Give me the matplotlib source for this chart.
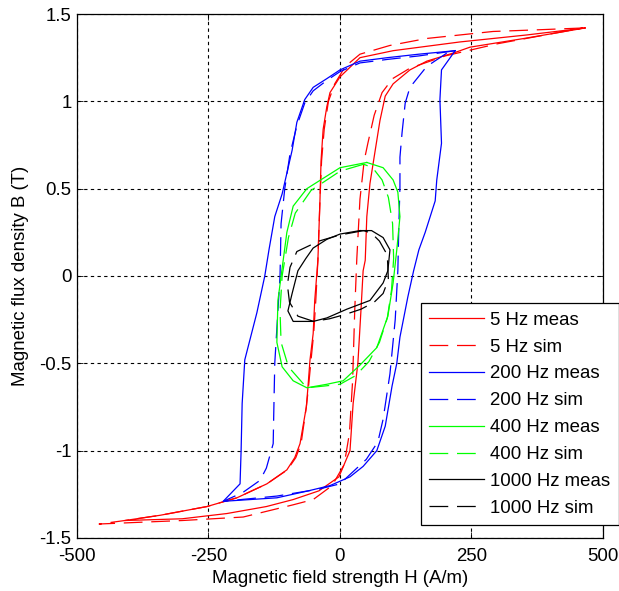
import matplotlib
matplotlib.use("Agg")
import matplotlib.pyplot as plt

# 5 Hz, measured (descending branch then ascending branch)
h_5_meas = [466, 355, 228, 101, 38, 0, -19, -25, -32, -36, -38, -42, -48, -51, -57, -61, -64,
            -76, -86, -101, -139, -196, -253, -342, -409,
            -300, -215, -140, -89, -40, -2, 19, 25, 34, 40, 44, 48, 51, 57, 67, 76, 86, 101,
            133, 165, 219, 247, 350, 466]
b_5_meas = [1.42, 1.38, 1.34, 1.29, 1.25, 1.14, 1.05, 0.97, 0.84, 0.66, 0.44, 0.09, -0.14, -0.33,
            -0.48, -0.64, -0.75, -0.96, -1.04, -1.11, -1.19, -1.27, -1.32, -1.37, -1.40,
            -1.39, -1.36, -1.32, -1.28, -1.23, -1.15, -1.0, -0.73, -0.50, -0.19, 0.03, 0.09,
            0.34, 0.53, 0.72, 0.89, 1.03, 1.10, 1.18, 1.23, 1.28, 1.31, 1.36, 1.42]

# 5 Hz, simulated
h_5_sim = [462, 380, 291, 165, 95, 38, 10, -10, -22, -30, -35, -38, -42, -46, -50, -55, -60, -64,
           -74, -84, -100, -139, -196, -253, -342, -409, -458,
           -380, -300, -184, -89, -51, -15, 8, 18, 24, 28, 32, 38, 46, 53, 65, 80, 100, 133,
           200, 300, 462]
b_5_sim = [1.42, 1.41, 1.40, 1.36, 1.32, 1.27, 1.20, 1.10, 1.0, 0.84, 0.66, 0.44, 0.09, -0.14,
           -0.33, -0.48, -0.64, -0.75, -0.96, -1.04, -1.11, -1.19, -1.27, -1.32, -1.37, -1.40,
           -1.42, -1.41, -1.40, -1.38, -1.31, -1.28, -1.20, -1.08, -0.90, -0.60, -0.20, 0.10,
           0.44, 0.66, 0.76, 0.92, 1.05, 1.13, 1.19, 1.26, 1.33, 1.42]

# 200 Hz, measured
h_200_meas = [219, 150, 90, 38, 0, -25, -51, -67, -82, -91, -110, -124, -135, -143, -158, -181,
              -186, -188, -190, -222,
              -120, -60, -19, 19, 44, 70, 86, 99, 108, 114, 129, 140, 150, 162, 181, 184, 193,
              190, 193, 219]
b_200_meas = [1.29, 1.27, 1.25, 1.23, 1.18, 1.13, 1.08, 1.01, 0.88, 0.72, 0.47, 0.34, 0.15, 0.0,
              -0.21, -0.48, -0.73, -1.0, -1.19, -1.29,
              -1.27, -1.23, -1.20, -1.15, -1.09, -1.0, -0.86, -0.63, -0.50, -0.35, -0.12, 0.03,
              0.15, 0.25, 0.43, 0.55, 0.76, 1.01, 1.18, 1.29]

# 200 Hz, simulated
h_200_sim = [219, 150, 90, 38, 0, -25, -51, -67, -82, -95, -105, -112, -114, -120, -124, -126,
             -127, -140, -152, -185, -222,
             -120, -40, 0, 25, 50, 72, 82, 95, 105, 110, 112, 114, 114, 118, 124, 133, 165, 205,
             219]
b_200_sim = [1.29, 1.26, 1.24, 1.22, 1.17, 1.12, 1.06, 0.99, 0.86, 0.70, 0.50, 0.30, 0.0, -0.30,
             -0.50, -0.80, -0.96, -1.10, -1.17, -1.24, -1.29,
             -1.26, -1.22, -1.19, -1.12, -1.05, -0.95, -0.82, -0.56, -0.25, 0.03, 0.30, 0.51,
             0.68, 0.82, 0.99, 1.08, 1.20, 1.28, 1.29]

# 400 Hz, measured
h_400_meas = [51, 0, -63, -89, -101, -108, -118, -120, -110, -89, -63, -25, 6, 38, 70, 91, 101,
              108, 114, 110, 101, 82, 51]
b_400_meas = [0.65, 0.62, 0.50, 0.40, 0.25, 0.09, -0.14, -0.38, -0.52, -0.60, -0.64, -0.62,
              -0.60, -0.51, -0.41, -0.23, -0.04, 0.15, 0.34, 0.48, 0.55, 0.62, 0.65]

# 400 Hz, simulated
h_400_sim = [45, 0, -55, -85, -98, -110, -114, -112, -98, -63, -30, 0, 30, 55, 75, 90, 98, 102,
             100, 92, 80, 62, 45]
b_400_sim = [0.64, 0.60, 0.49, 0.36, 0.22, 0.0, -0.20, -0.38, -0.52, -0.64, -0.63, -0.62, -0.57,
             -0.49, -0.38, -0.24, -0.08, 0.10, 0.30, 0.45, 0.55, 0.62, 0.64]

# 1000 Hz, measured
h_1000_meas = [38, 0, -25, -51, -65, -80, -91, -99, -89, -51, -25, 13, 57, 82, 91, 95, 82, 60, 38]
b_1000_meas = [0.26, 0.24, 0.21, 0.16, 0.10, 0.03, -0.10, -0.20, -0.26, -0.26, -0.24, -0.19,
               -0.14, -0.04, 0.03, 0.15, 0.22, 0.26, 0.26]

# 1000 Hz, simulated
h_1000_sim = [45, 0, -40, -82, -95, -100, -96, -80, -50, -20, 10, 40, 65, 82, 92, 90, 75, 60, 45]
b_1000_sim = [0.26, 0.235, 0.20, 0.14, 0.05, -0.05, -0.15, -0.23, -0.26, -0.245, -0.22, -0.19,
              -0.15, -0.10, -0.02, 0.12, 0.20, 0.245, 0.26]

labels = ["5 Hz meas", "5 Hz sim", "200 Hz meas", "200 Hz sim",
          "400 Hz meas", "400 Hz sim", "1000 Hz meas", "1000 Hz sim"]
x_ticks = [-500, -250, 0, 250, 500]
x_tick_labels = ["-500", "-250", "0", "250", "500"]
y_ticks = [-1.5, -1, -0.5, 0, 0.5, 1, 1.5]
y_tick_labels = ["-1.5", "-1", "-0.5", "0", "0.5", "1", "1.5"]


def main():
    plt.rcParams["font.family"] = ["Liberation Sans", "DejaVu Sans"]
    fs = 13.4

    fig = plt.figure(figsize=(6.19, 5.91), dpi=100)
    ax = fig.add_axes([0.1244, 0.0897, 0.8497, 0.8866])

    curves = [
        (h_5_meas, b_5_meas, "#ff0000", "-"),
        (h_5_sim, b_5_sim, "#ff0000", "--"),
        (h_200_meas, b_200_meas, "#0000ff", "-"),
        (h_200_sim, b_200_sim, "#0000ff", "--"),
        (h_400_meas, b_400_meas, "#00ff00", "-"),
        (h_400_sim, b_400_sim, "#00ff00", "--"),
        (h_1000_meas, b_1000_meas, "#000000", "-"),
        (h_1000_sim, b_1000_sim, "#000000", "--"),
    ]
    for (h, b, color, ls), label in zip(curves, labels):
        line, = ax.plot(h, b, color=color, linewidth=0.9, label=label)
        if ls == "--":
            line.set_dashes((15, 7))

    ax.set_xlim(-500, 500)
    ax.set_ylim(-1.5, 1.5)
    ax.set_xticks(x_ticks)
    ax.set_xticklabels(x_tick_labels, fontsize=fs)
    ax.set_yticks(y_ticks)
    ax.set_yticklabels(y_tick_labels, fontsize=fs)
    ax.tick_params(direction="in", length=4, top=True, right=True, width=0.6)
    ax.tick_params(axis="x", pad=7)
    ax.tick_params(axis="y", pad=4)
    ax.grid(True, color="black", linestyle=(0, (3, 3)), linewidth=0.8)
    for sp in ax.spines.values():
        sp.set_linewidth(0.9)

    ax.set_xlabel("Magnetic field strength H (A/m)", fontsize=fs, labelpad=4)
    ax.set_ylabel("Magnetic flux density B (T)", fontsize=fs, labelpad=7)

    leg = ax.legend(loc="upper left", bbox_to_anchor=(0.654, 0.448), fontsize=fs,
                    frameon=True, fancybox=False, framealpha=1, edgecolor="black",
                    handlelength=2.95, handletextpad=0.32, labelspacing=0.53,
                    borderpad=0.45, borderaxespad=0)
    leg.get_frame().set_linewidth(0.9)
    leg.set_zorder(5)

    fig.savefig("out.png", dpi=100)
    plt.close(fig)


if __name__ == "__main__":
    main()
